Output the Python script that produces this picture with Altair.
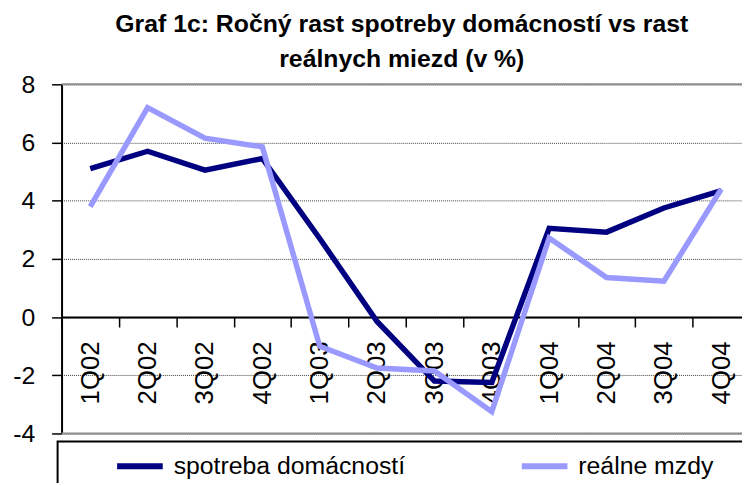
import altair as alt
import pandas as pd

quarters = ["1Q02", "2Q02", "3Q02", "4Q02", "1Q03", "2Q03", "3Q03", "4Q03",
            "1Q04", "2Q04", "3Q04", "4Q04"]
spotreba = [5.1, 5.7, 5.05, 5.45, 2.7, -0.15, -2.2, -2.25, 3.05, 2.92, 3.75, 4.35]
mzdy = [3.8, 7.2, 6.15, 5.85, -1.0, -1.75, -1.85, -3.25, 2.72, 1.36, 1.23, 4.4]
series_names = ["spotreba domácností", "reálne mzdy"]
colors = ["#000080", "#9999FF"]
y_ticks = [-4, -2, 0, 2, 4, 6, 8]
border_vals = [8, -4]

FONT = "Liberation Sans, Arial, sans-serif"

df = pd.DataFrame({
    "q": quarters * 2,
    "v": spotreba + mzdy,
    "s": [series_names[0]] * len(quarters) + [series_names[1]] * len(quarters),
})

yscale = alt.Scale(domain=[-4, 8], nice=False, zero=False)

x_enc = alt.X(
    "q:N", sort=quarters, bandPosition=0.5,
    scale=alt.Scale(type="band", domain=quarters, range=[0, 694],
                    paddingInner=0, paddingOuter=0),
    axis=alt.Axis(title=None, orient="bottom", offset=-117.33, labelAngle=270,
                  tickBand="extent", tickSize=10, tickColor="black", tickWidth=1.5,
                  domainColor="black", domainWidth=2, labelFontSize=26,
                  labelFont=FONT, labelColor="black", labelPadding=14, grid=False),
)
y_enc = alt.Y(
    "v:Q", scale=yscale,
    axis=alt.Axis(title=None, values=y_ticks, tickSize=10, tickColor="black",
                  tickWidth=1.5, domainColor="black", domainWidth=2,
                  labelFontSize=25, labelFont=FONT, labelColor="black",
                  labelPadding=17, labelExpr="'' + datum.value",
                  grid=True, gridColor="#404040", gridDash=[1, 1], gridWidth=1),
)

lines = alt.Chart(df).mark_line(strokeWidth=5.5).encode(
    x=x_enc,
    y=y_enc,
    color=alt.Color(
        "s:N", sort=series_names,
        scale=alt.Scale(domain=series_names, range=colors),
        legend=alt.Legend(
            title=None, orient="none", legendX=53, legendY=359,
            direction="horizontal", symbolType="stroke", symbolStrokeWidth=6,
            symbolSize=2116, symbolOpacity=1, labelFontSize=25, labelFont=FONT,
            labelColor="black", labelOffset=8, columnPadding=105,
            labelLimit=500, padding=0,
        ),
    ),
    order=alt.Order("s:N", sort="descending"),
)

borders = alt.Chart(pd.DataFrame({"b": border_vals})).mark_rule(
    color="#8c8c8c", strokeWidth=2
).encode(
    y=alt.Y("b:Q", scale=yscale),
    x=alt.value(0),
    x2=alt.value(700),
)

legend_box = alt.Chart(pd.DataFrame({"a": [0]})).mark_rect(
    fill="white", stroke="black", strokeWidth=2
).encode(
    x=alt.value(-4), x2=alt.value(760), y=alt.value(360), y2=alt.value(460)
)

chart = alt.layer(borders, legend_box, lines).properties(
    width=686,
    height=352,
    autosize=alt.AutoSizeParams(type="none"),
    padding={"left": 54, "top": 75, "right": 0, "bottom": 48},
    title=alt.TitleParams(
        text=["Graf 1c: Ročný rast spotreby domácností vs rast",
              "reálnych miezd (v %)"],
        fontSize=25, font=FONT, fontWeight="bold", anchor="middle",
        offset=-20, lineHeight=36, baseline="alphabetic", color="black",
    ),
).configure_view(stroke=None).configure(background="white")

chart.save("out.html", embed_options={"renderer": "svg", "actions": False})
